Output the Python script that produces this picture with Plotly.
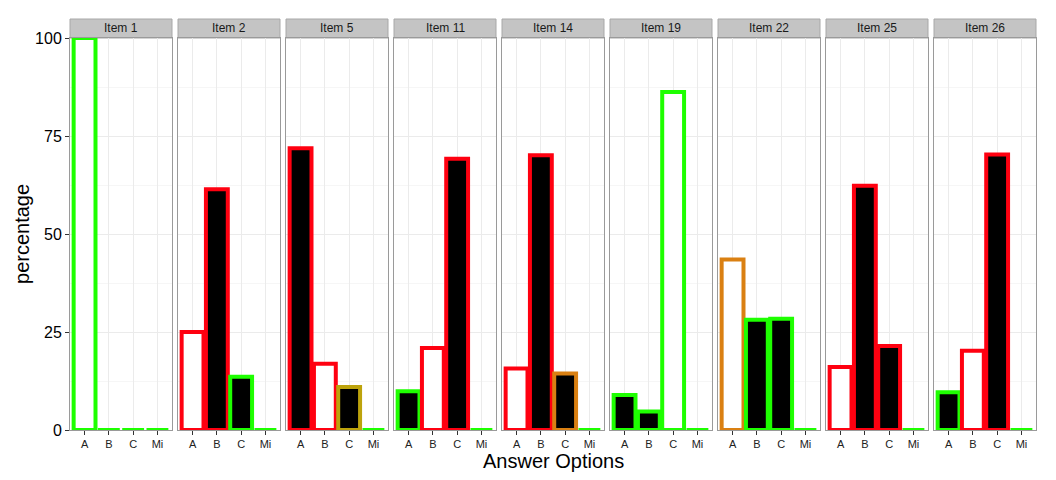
import plotly.graph_objects as go

# data
items = ["Item 1", "Item 2", "Item 5", "Item 11", "Item 14",
         "Item 19", "Item 22", "Item 25", "Item 26"]
options = ["A", "B", "C", "Mi"]

pct_item1 = [100, 0, 0, 0]
pct_item2 = [25.0, 61.4, 13.6, 0]
pct_item5 = [71.9, 16.9, 11.0, 0]
pct_item11 = [9.9, 20.9, 69.2, 0]
pct_item14 = [15.7, 70.1, 14.4, 0]
pct_item19 = [8.9, 4.7, 86.2, 0]
pct_item22 = [43.5, 28.1, 28.4, 0]
pct_item25 = [16.1, 62.3, 21.4, 0]
pct_item26 = [9.6, 20.2, 70.3, 0]

# answer key (drawn hollow)
keys = ["A", "A", "B", "B", "A", "C", "A", "A", "B"]

# outline flag per option
flag_item1 = ["good", "good", "good", "good"]
flag_item2 = ["bad", "bad", "good", "good"]
flag_item5 = ["bad", "bad", "weak", "good"]
flag_item11 = ["good", "bad", "bad", "good"]
flag_item14 = ["bad", "bad", "fair", "good"]
flag_item19 = ["good", "good", "good", "good"]
flag_item22 = ["fair", "good", "good", "good"]
flag_item25 = ["bad", "bad", "bad", "good"]
flag_item26 = ["good", "bad", "bad", "good"]

pcts = [pct_item1, pct_item2, pct_item5, pct_item11, pct_item14,
        pct_item19, pct_item22, pct_item25, pct_item26]
flags = [flag_item1, flag_item2, flag_item5, flag_item11, flag_item14,
         flag_item19, flag_item22, flag_item25, flag_item26]

flag_colors = {"good": "#1EFF00", "bad": "#FF0010", "fair": "#DA8012", "weak": "#BDA30C"}

FONT = "Liberation Sans, Arial, sans-serif"
n = len(items)
plot_w = 966.0
panel_w = 102.0
step = 108.0
strip_h = 19 / 392.0

fig = go.Figure()
# page body has an 8px margin, so the figure is a bit smaller and shifted
layout = dict(
    width=1048, height=472,
    margin=dict(l=62, r=20, t=30, b=50, autoexpand=False),
    plot_bgcolor="white", paper_bgcolor="white",
    showlegend=False, bargap=0.1,
    font=dict(family=FONT, color="black"),
    shapes=[], annotations=[],
)

for i in range(n):
    sfx = "" if i == 0 else str(i + 1)
    fills = ["white" if o == keys[i] else "black" for o in options]
    fig.add_trace(go.Bar(
        x=options, y=pcts[i], width=0.9,
        marker=dict(color=fills,
                    line=dict(color=[flag_colors[f] for f in flags[i]], width=4)),
        xaxis="x" + sfx, yaxis="y" + sfx,
    ))
    x0 = i * step / plot_w
    x1 = (i * step + panel_w) / plot_w
    layout["xaxis" + sfx] = dict(
        domain=[x0, x1], anchor="y" + sfx,
        type="category", categoryorder="array", categoryarray=options,
        range=[-0.6, 3.6], automargin=False,
        showgrid=True, gridcolor="#EBEBEB", gridwidth=1,
        showline=True, linecolor="#9A9A9A", linewidth=1, mirror=True,
        ticks="outside", ticklen=4, tickcolor="#333333",
        tickfont=dict(size=11, family=FONT, color="#222222"),
        layer="below traces", fixedrange=True,
    )
    layout["yaxis" + sfx] = dict(
        anchor="x" + sfx, range=[0, 100], automargin=False,
        tickvals=[0, 25, 50, 75, 100],
        showticklabels=(i == 0),
        showgrid=True, gridcolor="#EBEBEB", gridwidth=1,
        minor=dict(tickvals=[12.5, 37.5, 62.5, 87.5], showgrid=True,
                   gridcolor="#F6F6F6", gridwidth=1),
        showline=True, linecolor="#9A9A9A", linewidth=1, mirror=True,
        ticks="outside" if i == 0 else "", ticklen=4, tickcolor="#333333",
        tickfont=dict(size=16, family=FONT, color="black"),
        zeroline=False, layer="below traces", fixedrange=True,
    )
    # facet strip
    layout["shapes"].append(dict(
        type="rect", xref="paper", yref="paper",
        x0=x0, x1=x1, y0=1, y1=1 + strip_h,
        fillcolor="#C4C4C4", line=dict(color="#A8A8A8", width=1), layer="below",
    ))
    layout["annotations"].append(dict(
        text=items[i], xref="paper", yref="paper",
        x=(x0 + x1) / 2, y=1 + strip_h / 2, xanchor="center", yanchor="middle",
        showarrow=False, font=dict(size=12, family=FONT, color="#1A1A1A"),
    ))

layout["annotations"].append(dict(
    text="percentage", xref="paper", yref="paper", textangle=-90,
    x=-0.0497, y=0.5, xanchor="center", yanchor="middle",
    showarrow=False, font=dict(size=20, family=FONT, color="black"),
))
layout["annotations"].append(dict(
    text="Answer Options", xref="paper", yref="paper",
    x=0.5, y=-0.045, xanchor="center", yanchor="top",
    showarrow=False, font=dict(size=20, family=FONT, color="black"),
))

fig.update_layout(**layout)
fig.write_html("out.html")
